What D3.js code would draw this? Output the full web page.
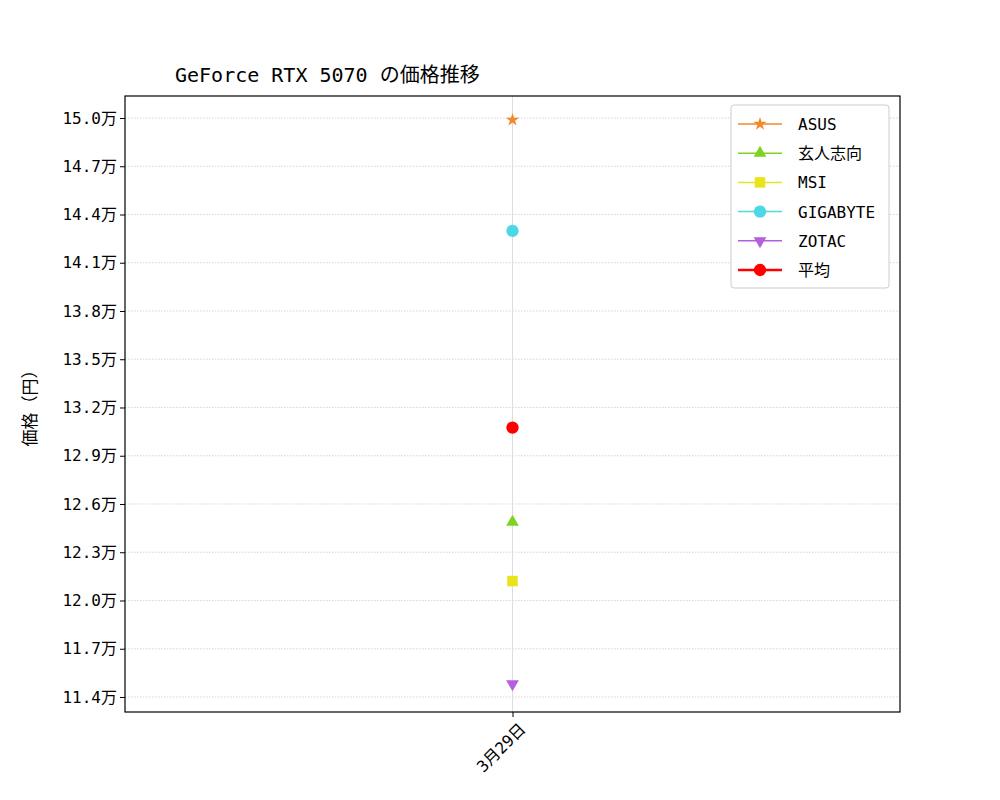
<!DOCTYPE html>
<html><head><meta charset="utf-8">
<script src="https://cdn.jsdelivr.net/npm/d3@7"></script>
<style>body{margin:0;background:#fff}text{font-family:"DejaVu Sans Mono","Noto Sans CJK JP",monospace;}</style>
</head><body>
<svg id="c" width="1000" height="800"></svg>
<script>
const dates = ["3月29日"];
const seriesNames = ["ASUS","玄人志向","MSI","GIGABYTE","ZOTAC","平均"];
const seriesValues = [[149880],[124880],[121210],[142980],[114810],[130752]];
const seriesColors = ["#f28a2a","#7ed321","#e8e31a","#4dd8e8","#b45ee0","#ff0000"];
const seriesSymbols = ["star","triangle","square","circle","down","circle"];
const yTicks = [114000,117000,120000,123000,126000,129000,132000,135000,138000,141000,144000,147000,150000];

const svg = d3.select("#c");
const L=125,R=900,T=96,B=712;
const x = d3.scalePoint().domain(dates).range([L,R]).padding(0.5);
const y = d3.scaleLinear().domain([113067,151368]).range([B,T]);

svg.append("g").selectAll("line").data(yTicks).join("line")
 .attr("x1",L).attr("x2",R).attr("y1",d=>y(d)).attr("y2",d=>y(d))
 .attr("stroke","#bbb").attr("stroke-width",0.6).attr("stroke-dasharray","1.5,1.5");
svg.append("g").selectAll("line").data(dates).join("line")
 .attr("x1",d=>x(d)).attr("x2",d=>x(d)).attr("y1",T).attr("y2",B)
 .attr("stroke","#ddd").attr("stroke-width",1);

const ya = svg.append("g").attr("transform",`translate(${L},0)`)
 .call(d3.axisLeft(y).tickValues(yTicks).tickSize(5).tickPadding(3).tickFormat(d=>(d/10000).toFixed(1)+"万"));
ya.selectAll("text").attr("font-size",16).attr("fill","#000");
ya.select(".domain").remove();
const xa = svg.append("g").attr("transform",`translate(0,${B})`)
 .call(d3.axisBottom(x).tickSize(5));
xa.select(".domain").remove();
xa.selectAll("text").attr("font-size",16).attr("fill","#000")
 .attr("text-anchor","end").attr("transform","rotate(-45)").attr("dx","-0.2em").attr("dy","0.9em");
svg.append("rect").attr("x",L).attr("y",T).attr("width",R-L).attr("height",B-T)
 .attr("fill","none").attr("stroke","#000").attr("stroke-width",1.2);

function sym(s,size){
  const m={star:d3.symbolStar,triangle:d3.symbolTriangle,square:d3.symbolSquare,circle:d3.symbolCircle,down:d3.symbolTriangle};
  return d3.symbol().type(m[s]).size(size)();
}
const sz={star:55,triangle:70,square:110,circle:120,down:70};
seriesNames.forEach((n,i)=>{
  svg.append("g").selectAll("path").data(seriesValues[i]).join("path")
   .attr("d",sym(seriesSymbols[i],sz[seriesSymbols[i]]))
   .attr("transform",(d,j)=>`translate(${x(dates[j])},${y(d)})${seriesSymbols[i]==="down"?" rotate(180)":""}`)
   .attr("fill",seriesColors[i]);
});

svg.append("text").attr("x",175).attr("y",82).attr("font-size",20).text("GeForce RTX 5070 の価格推移");
svg.append("text").attr("transform","translate(36,404) rotate(-90)").attr("text-anchor","middle")
 .attr("font-size",17).text("価格（円）");

const lg=svg.append("g");
lg.append("rect").attr("x",731).attr("y",105).attr("width",158).attr("height",183).attr("rx",3)
 .attr("fill","#fff").attr("stroke","#ccc");
seriesNames.forEach((n,i)=>{
  const yy=124+i*29.2;
  lg.append("line").attr("x1",738).attr("x2",782).attr("y1",yy).attr("y2",yy)
   .attr("stroke",seriesColors[i]).attr("stroke-width",i===5?2.5:1.5);
  lg.append("path").attr("d",sym(seriesSymbols[i],sz[seriesSymbols[i]]))
   .attr("transform",`translate(760,${yy})${seriesSymbols[i]==="down"?" rotate(180)":""}`).attr("fill",seriesColors[i]);
  lg.append("text").attr("x",798).attr("y",yy+6).attr("font-size",16).text(n);
});
</script>
</body></html>
